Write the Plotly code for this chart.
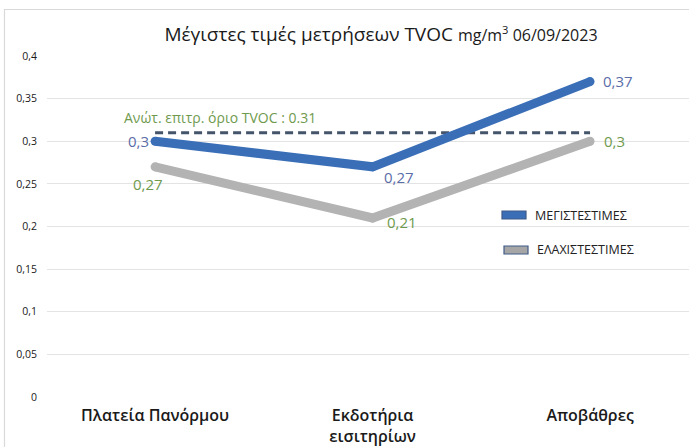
import plotly.graph_objects as go

categories = ["Πλατεία Πανόρμου", "Εκδοτήρια<br>εισιτηρίων", "Αποβάθρες"]
max_values = [0.30, 0.27, 0.37]
min_values = [0.27, 0.21, 0.30]
limit_value = 0.31
y_ticks = [0, 0.05, 0.1, 0.15, 0.2, 0.25, 0.3, 0.35, 0.4]
y_tick_labels = ["0", "0,05", "0,1", "0,15", "0,2", "0,25", "0,3", "0,35", "0,4"]

FONT = "Open Sans"
C_MAX = "#3A6FB8"
C_MIN = "#B3B3B3"
C_MAXLBL = "#5B6DA8"
C_MINLBL = "#6F9A4E"
C_DASH = "#44546A"

xs = list(range(len(categories)))

fig = go.Figure()
fig.add_trace(go.Scatter(x=xs, y=[limit_value] * len(xs), mode="lines",
                         line=dict(color=C_DASH, width=3, dash="8px,5px"),
                         showlegend=False, hoverinfo="skip"))
fig.add_trace(go.Scatter(x=xs, y=min_values, mode="lines+markers",
                         line=dict(color=C_MIN, width=9),
                         marker=dict(color=C_MIN, size=9),
                         showlegend=False))
fig.add_trace(go.Scatter(x=xs, y=max_values, mode="lines+markers",
                         line=dict(color=C_MAX, width=9),
                         marker=dict(color=C_MAX, size=9),
                         showlegend=False))

def fmt(v):
    return ("%g" % v).replace(".", ",")

max_shifts = [(-17, 0), (26, -10), (28, 1)]
min_shifts = [(-7, -17), (29, -4), (24, 0)]
for i, v in enumerate(max_values):
    dx, dy = max_shifts[i]
    fig.add_annotation(x=xs[i], y=v, text=fmt(v), showarrow=False,
                       xshift=dx, yshift=dy,
                       font=dict(family=FONT, size=15, color=C_MAXLBL))
for i, v in enumerate(min_values):
    dx, dy = min_shifts[i]
    fig.add_annotation(x=xs[i], y=v, text=fmt(v), showarrow=False,
                       xshift=dx, yshift=dy,
                       font=dict(family=FONT, size=15, color=C_MINLBL))

fig.add_annotation(x=xs[0], y=limit_value, text="Ανώτ. επιτρ. όριο TVOC : 0.31",
                   showarrow=False, xanchor="left", xshift=-33, yshift=15,
                   font=dict(family=FONT, size=14, color=C_MINLBL))

# legend drawn manually (paper coordinates)
L, T, W, H = 47, 56, 642, 341
def px(x):
    return (x - L) / W
def py(y):
    return (T + H - y) / H

legend_items = [("ΜΕΓΙΣΤΕΣΤΙΜΕΣ", C_MAX, 215, 502), ("ΕΛΑΧΙΣΤΕΣΤΙΜΕΣ", "#A6A6A6", 250, 504)]
for label, col, yc, x0 in legend_items:
    fig.add_shape(type="rect", xref="paper", yref="paper",
                  x0=px(x0), x1=px(x0 + 24), y0=py(yc - 4), y1=py(yc + 4),
                  fillcolor=col, line=dict(color="#3F5A8A", width=1.2))
    fig.add_annotation(xref="paper", yref="paper", x=px(x0 + 31), y=py(yc),
                       text=label, showarrow=False, xanchor="left", yanchor="middle",
                       font=dict(family=FONT, size=12.5, color="#222222"))

# outer frame
fig.add_shape(type="rect", xref="paper", yref="paper",
              x0=px(4.5), x1=px(700), y0=py(460), y1=py(9.5),
              line=dict(color="#D9D9D9", width=1.2), fillcolor="rgba(0,0,0,0)", layer="below")

fig.update_layout(
    width=689, height=447,
    margin=dict(l=L, r=0, t=T, b=447 - T - H, pad=0),
    paper_bgcolor="white", plot_bgcolor="white",
    separators=",.",
    title=dict(text="Μέγιστες τιμές μετρήσεων TVOC <span style='font-size:16px'>mg/m<sup>3</sup> 06/09/2023</span>",
               x=381 / 689, xanchor="center", y=1 - 34 / 447, yanchor="middle",
               xref="container", yref="container",
               font=dict(family=FONT, size=19, color="#1a1a1a")),
    xaxis=dict(range=[-0.497, 2.455], tickmode="array", tickvals=xs, ticktext=categories,
               showgrid=False, zeroline=False, showline=False, ticks="", ticklabelstandoff=7,
               tickfont=dict(family=FONT, size=16, color="#1a1a1a", weight=600), fixedrange=True),
    yaxis=dict(range=[0, 0.4], tickmode="array", tickvals=y_ticks, ticktext=y_tick_labels,
               showgrid=True, gridcolor="#E3E3E3", gridwidth=1, zeroline=False,
               showline=False, ticks="", ticklabelstandoff=9,
               tickfont=dict(family=FONT, size=10.5, color="#1a1a1a")),
    showlegend=False,
)

fig.write_html("out.html", post_script="document.body.style.margin='0';",
               config={"displayModeBar": False})
